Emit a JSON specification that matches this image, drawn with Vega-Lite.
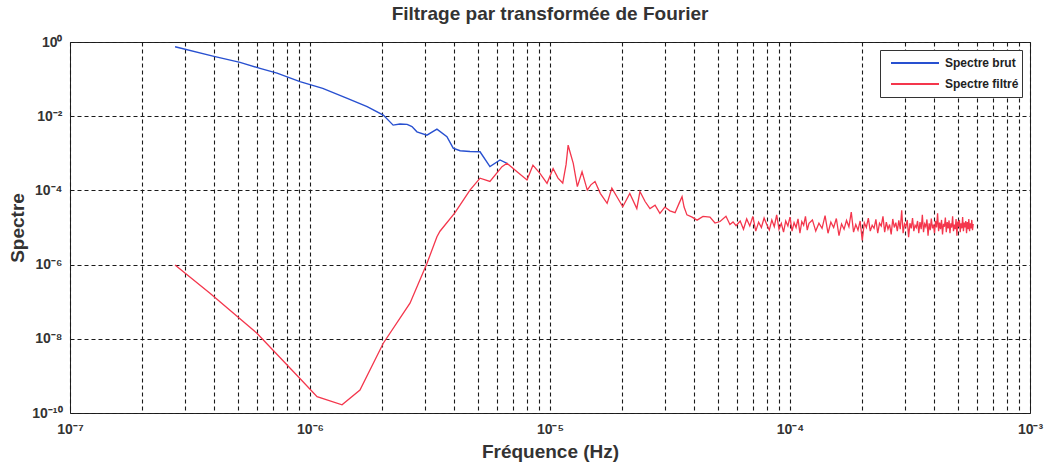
{
  "$schema": "https://vega.github.io/schema/vega-lite/v6.json",
  "width": 960,
  "height": 371,
  "autosize": {"type": "none"},
  "padding": {"left": 70, "top": 42, "right": 17, "bottom": 53},
  "background": "white",
  "title": {"text": "Filtrage par transformée de Fourier", "font": "Liberation Sans", "fontSize": 19, "fontWeight": "bold", "color": "#333", "offset": 11, "anchor": "middle"},
  "config": {"view": {"stroke": "#222", "strokeWidth": 1}},
  "datasets": {
    "brut": [
      {"freq": 2.74e-7, "spectre": 0.746, "serie": "Spectre brut"},
      {"freq": 3.94e-7, "spectre": 0.417, "serie": "Spectre brut"},
      {"freq": 5.11e-7, "spectre": 0.282, "serie": "Spectre brut"},
      {"freq": 6.19e-7, "spectre": 0.195, "serie": "Spectre brut"},
      {"freq": 7.29e-7, "spectre": 0.145, "serie": "Spectre brut"},
      {"freq": 9.08e-7, "spectre": 0.0851, "serie": "Spectre brut"},
      {"freq": 1.13e-6, "spectre": 0.0562, "serie": "Spectre brut"},
      {"freq": 1.43e-6, "spectre": 0.0302, "serie": "Spectre brut"},
      {"freq": 1.73e-6, "spectre": 0.0182, "serie": "Spectre brut"},
      {"freq": 2.02e-6, "spectre": 0.0107, "serie": "Spectre brut"},
      {"freq": 2.22e-6, "spectre": 0.00575, "serie": "Spectre brut"},
      {"freq": 2.37e-6, "spectre": 0.00617, "serie": "Spectre brut"},
      {"freq": 2.54e-6, "spectre": 0.00603, "serie": "Spectre brut"},
      {"freq": 2.66e-6, "spectre": 0.00525, "serie": "Spectre brut"},
      {"freq": 2.79e-6, "spectre": 0.0038, "serie": "Spectre brut"},
      {"freq": 3.07e-6, "spectre": 0.00309, "serie": "Spectre brut"},
      {"freq": 3.38e-6, "spectre": 0.00447, "serie": "Spectre brut"},
      {"freq": 3.72e-6, "spectre": 0.00282, "serie": "Spectre brut"},
      {"freq": 3.95e-6, "spectre": 0.00138, "serie": "Spectre brut"},
      {"freq": 4.22e-6, "spectre": 0.00117, "serie": "Spectre brut"},
      {"freq": 4.64e-6, "spectre": 0.00112, "serie": "Spectre brut"},
      {"freq": 5.11e-6, "spectre": 0.0011, "serie": "Spectre brut"},
      {"freq": 5.62e-6, "spectre": 4.37e-4, "serie": "Spectre brut"},
      {"freq": 6.19e-6, "spectre": 6.61e-4, "serie": "Spectre brut"},
      {"freq": 6.62e-6, "spectre": 5.37e-4, "serie": "Spectre brut"}
    ],
    "filtre": [
      {"freq": 2.74e-7, "spectre": 9.77e-7, "serie": "Spectre filtré"},
      {"freq": 3.83e-7, "spectre": 1.70e-7, "serie": "Spectre filtré"},
      {"freq": 6.01e-7, "spectre": 1.41e-8, "serie": "Spectre filtré"},
      {"freq": 9.08e-7, "spectre": 8.51e-10, "serie": "Spectre filtré"},
      {"freq": 1.07e-6, "spectre": 2.75e-10, "serie": "Spectre filtré"},
      {"freq": 1.36e-6, "spectre": 1.66e-10, "serie": "Spectre filtré"},
      {"freq": 1.615e-6, "spectre": 4.17e-10, "serie": "Spectre filtré"},
      {"freq": 2.02e-6, "spectre": 7.59e-9, "serie": "Spectre filtré"},
      {"freq": 2.61e-6, "spectre": 9.12e-8, "serie": "Spectre filtré"},
      {"freq": 3.07e-6, "spectre": 1.07e-6, "serie": "Spectre filtré"},
      {"freq": 3.38e-6, "spectre": 5.62e-6, "serie": "Spectre filtré"},
      {"freq": 3.48e-6, "spectre": 7.94e-6, "serie": "Spectre filtré"},
      {"freq": 4.02e-6, "spectre": 2.51e-5, "serie": "Spectre filtré"},
      {"freq": 4.64e-6, "spectre": 1.02e-4, "serie": "Spectre filtré"},
      {"freq": 5.11e-6, "spectre": 2.14e-4, "serie": "Spectre filtré"},
      {"freq": 5.62e-6, "spectre": 1.74e-4, "serie": "Spectre filtré"},
      {"freq": 6.31e-6, "spectre": 4.37e-4, "serie": "Spectre filtré"},
      {"freq": 6.62e-6, "spectre": 5.37e-4, "serie": "Spectre filtré"},
      {"freq": 7.29e-6, "spectre": 3.16e-4, "serie": "Spectre filtré"},
      {"freq": 8.02e-6, "spectre": 1.91e-4, "serie": "Spectre filtré"},
      {"freq": 8.49e-6, "spectre": 4.79e-4, "serie": "Spectre filtré"},
      {"freq": 9.08e-6, "spectre": 2.88e-4, "serie": "Spectre filtré"},
      {"freq": 9.72e-6, "spectre": 1.55e-4, "serie": "Spectre filtré"},
      {"freq": 1.03e-5, "spectre": 3.89e-4, "serie": "Spectre filtré"},
      {"freq": 1.08e-5, "spectre": 2.14e-4, "serie": "Spectre filtré"},
      {"freq": 1.13e-5, "spectre": 1.58e-4, "serie": "Spectre filtré"},
      {"freq": 1.167e-5, "spectre": 5.01e-4, "serie": "Spectre filtré"},
      {"freq": 1.19e-5, "spectre": 1.66e-3, "serie": "Spectre filtré"},
      {"freq": 1.21e-5, "spectre": 1.12e-3, "serie": "Spectre filtré"},
      {"freq": 1.25e-5, "spectre": 5.37e-4, "serie": "Spectre filtré"},
      {"freq": 1.30e-5, "spectre": 1.26e-4, "serie": "Spectre filtré"},
      {"freq": 1.36e-5, "spectre": 3.16e-4, "serie": "Spectre filtré"},
      {"freq": 1.43e-5, "spectre": 1.02e-4, "serie": "Spectre filtré"},
      {"freq": 1.48e-5, "spectre": 1.41e-4, "serie": "Spectre filtré"},
      {"freq": 1.54e-5, "spectre": 1.74e-4, "serie": "Spectre filtré"},
      {"freq": 1.62e-5, "spectre": 8.32e-5, "serie": "Spectre filtré"},
      {"freq": 1.73e-5, "spectre": 4.47e-5, "serie": "Spectre filtré"},
      {"freq": 1.81e-5, "spectre": 1.15e-4, "serie": "Spectre filtré"},
      {"freq": 1.90e-5, "spectre": 6.76e-5, "serie": "Spectre filtré"},
      {"freq": 2.01e-5, "spectre": 3.63e-5, "serie": "Spectre filtré"},
      {"freq": 2.15e-5, "spectre": 8.32e-5, "serie": "Spectre filtré"},
      {"freq": 2.30e-5, "spectre": 3.24e-5, "serie": "Spectre filtré"},
      {"freq": 2.37e-5, "spectre": 9.33e-5, "serie": "Spectre filtré"},
      {"freq": 2.49e-5, "spectre": 5.01e-5, "serie": "Spectre filtré"},
      {"freq": 2.61e-5, "spectre": 3.24e-5, "serie": "Spectre filtré"},
      {"freq": 2.74e-5, "spectre": 3.98e-5, "serie": "Spectre filtré"},
      {"freq": 2.87e-5, "spectre": 2.40e-5, "serie": "Spectre filtré"},
      {"freq": 3.01e-5, "spectre": 3.55e-5, "serie": "Spectre filtré"},
      {"freq": 3.16e-5, "spectre": 2.82e-5, "serie": "Spectre filtré"},
      {"freq": 3.32e-5, "spectre": 2.51e-5, "serie": "Spectre filtré"},
      {"freq": 3.45e-5, "spectre": 4.47e-5, "serie": "Spectre filtré"},
      {"freq": 3.55e-5, "spectre": 6.76e-5, "serie": "Spectre filtré"},
      {"freq": 3.62e-5, "spectre": 3.55e-5, "serie": "Spectre filtré"},
      {"freq": 3.72e-5, "spectre": 2.19e-5, "serie": "Spectre filtré"},
      {"freq": 3.91e-5, "spectre": 1.91e-5, "serie": "Spectre filtré"},
      {"freq": 4.10e-5, "spectre": 1.58e-5, "serie": "Spectre filtré"},
      {"freq": 4.34e-5, "spectre": 2.0e-5, "serie": "Spectre filtré"},
      {"freq": 4.64e-5, "spectre": 1.91e-5, "serie": "Spectre filtré"},
      {"freq": 4.87e-5, "spectre": 1.32e-5, "serie": "Spectre filtré"},
      {"freq": 5.11e-5, "spectre": 1.45e-5, "serie": "Spectre filtré"},
      {"freq": 5.41e-5, "spectre": 2.0e-5, "serie": "Spectre filtré"},
      {"freq": 5.62e-5, "spectre": 1.2e-5, "serie": "Spectre filtré"},
      {"freq": 5.79e-5, "spectre": 1.41e-5, "serie": "Spectre filtré"},
      {"freq": 5.96e-5, "spectre": 1.12e-5, "serie": "Spectre filtré"},
      {"freq": 6.2e-5, "spectre": 1.5e-5, "serie": "Spectre filtré"},
      {"freq": 6.4e-5, "spectre": 0.9e-5, "serie": "Spectre filtré"},
      {"freq": 6.6e-5, "spectre": 1.7e-5, "serie": "Spectre filtré"},
      {"freq": 6.8e-5, "spectre": 1.1e-5, "serie": "Spectre filtré"},
      {"freq": 7.0e-5, "spectre": 2.0e-5, "serie": "Spectre filtré"},
      {"freq": 7.2e-5, "spectre": 0.8e-5, "serie": "Spectre filtré"},
      {"freq": 7.4e-5, "spectre": 1.4e-5, "serie": "Spectre filtré"},
      {"freq": 7.6e-5, "spectre": 1.0e-5, "serie": "Spectre filtré"},
      {"freq": 7.8e-5, "spectre": 1.8e-5, "serie": "Spectre filtré"},
      {"freq": 8.0e-5, "spectre": 1.2e-5, "serie": "Spectre filtré"},
      {"freq": 8.2e-5, "spectre": 0.85e-5, "serie": "Spectre filtré"},
      {"freq": 8.4e-5, "spectre": 1.6e-5, "serie": "Spectre filtré"},
      {"freq": 8.6e-5, "spectre": 1.05e-5, "serie": "Spectre filtré"},
      {"freq": 8.8e-5, "spectre": 2.2e-5, "serie": "Spectre filtré"},
      {"freq": 9.0e-5, "spectre": 0.9e-5, "serie": "Spectre filtré"},
      {"freq": 9.2e-5, "spectre": 1.3e-5, "serie": "Spectre filtré"},
      {"freq": 9.4e-5, "spectre": 0.75e-5, "serie": "Spectre filtré"},
      {"freq": 9.6e-5, "spectre": 1.5e-5, "serie": "Spectre filtré"},
      {"freq": 9.8e-5, "spectre": 1.1e-5, "serie": "Spectre filtré"},
      {"freq": 10.0e-5, "spectre": 1.9e-5, "serie": "Spectre filtré"},
      {"freq": 10.2e-5, "spectre": 0.8e-5, "serie": "Spectre filtré"},
      {"freq": 10.4e-5, "spectre": 1.35e-5, "serie": "Spectre filtré"},
      {"freq": 10.6e-5, "spectre": 1.0e-5, "serie": "Spectre filtré"},
      {"freq": 10.8e-5, "spectre": 1.7e-5, "serie": "Spectre filtré"},
      {"freq": 11.0e-5, "spectre": 0.7e-5, "serie": "Spectre filtré"},
      {"freq": 11.2e-5, "spectre": 1.45e-5, "serie": "Spectre filtré"},
      {"freq": 11.4e-5, "spectre": 1.15e-5, "serie": "Spectre filtré"},
      {"freq": 11.6e-5, "spectre": 2.0e-5, "serie": "Spectre filtré"},
      {"freq": 11.8e-5, "spectre": 0.85e-5, "serie": "Spectre filtré"},
      {"freq": 12.0e-5, "spectre": 1.3e-5, "serie": "Spectre filtré"},
      {"freq": 12.4e-5, "spectre": 1.6e-5, "serie": "Spectre filtré"},
      {"freq": 12.8e-5, "spectre": 0.8e-5, "serie": "Spectre filtré"},
      {"freq": 13.2e-5, "spectre": 1.3e-5, "serie": "Spectre filtré"},
      {"freq": 13.6e-5, "spectre": 0.95e-5, "serie": "Spectre filtré"},
      {"freq": 14.0e-5, "spectre": 2.1e-5, "serie": "Spectre filtré"},
      {"freq": 14.4e-5, "spectre": 0.7e-5, "serie": "Spectre filtré"},
      {"freq": 14.8e-5, "spectre": 1.4e-5, "serie": "Spectre filtré"},
      {"freq": 15.2e-5, "spectre": 1.0e-5, "serie": "Spectre filtré"},
      {"freq": 15.6e-5, "spectre": 1.75e-5, "serie": "Spectre filtré"},
      {"freq": 16.0e-5, "spectre": 0.6e-5, "serie": "Spectre filtré"},
      {"freq": 16.4e-5, "spectre": 1.25e-5, "serie": "Spectre filtré"},
      {"freq": 16.8e-5, "spectre": 0.9e-5, "serie": "Spectre filtré"},
      {"freq": 17.2e-5, "spectre": 1.55e-5, "serie": "Spectre filtré"},
      {"freq": 17.6e-5, "spectre": 1.05e-5, "serie": "Spectre filtré"},
      {"freq": 18.0e-5, "spectre": 2.6e-5, "serie": "Spectre filtré"},
      {"freq": 18.4e-5, "spectre": 0.75e-5, "serie": "Spectre filtré"},
      {"freq": 18.8e-5, "spectre": 1.2e-5, "serie": "Spectre filtré"},
      {"freq": 19.2e-5, "spectre": 0.85e-5, "serie": "Spectre filtré"},
      {"freq": 19.6e-5, "spectre": 1.5e-5, "serie": "Spectre filtré"},
      {"freq": 20.0e-5, "spectre": 0.45e-5, "serie": "Spectre filtré"},
      {"freq": 20.4e-5, "spectre": 1.35e-5, "serie": "Spectre filtré"},
      {"freq": 20.8e-5, "spectre": 1.0e-5, "serie": "Spectre filtré"},
      {"freq": 21.2e-5, "spectre": 1.8e-5, "serie": "Spectre filtré"},
      {"freq": 21.6e-5, "spectre": 0.8e-5, "serie": "Spectre filtré"},
      {"freq": 22.0e-5, "spectre": 1.15e-5, "serie": "Spectre filtré"},
      {"freq": 22.4e-5, "spectre": 0.95e-5, "serie": "Spectre filtré"},
      {"freq": 22.8e-5, "spectre": 1.65e-5, "serie": "Spectre filtré"},
      {"freq": 23.2e-5, "spectre": 0.7e-5, "serie": "Spectre filtré"},
      {"freq": 23.6e-5, "spectre": 1.3e-5, "serie": "Spectre filtré"},
      {"freq": 24.0e-5, "spectre": 1.1e-5, "serie": "Spectre filtré"},
      {"freq": 24.4e-5, "spectre": 2.0e-5, "serie": "Spectre filtré"},
      {"freq": 24.8e-5, "spectre": 0.75e-5, "serie": "Spectre filtré"},
      {"freq": 25.2e-5, "spectre": 1.4e-5, "serie": "Spectre filtré"},
      {"freq": 25.6e-5, "spectre": 0.9e-5, "serie": "Spectre filtré"},
      {"freq": 26.0e-5, "spectre": 1.2e-5, "serie": "Spectre filtré"},
      {"freq": 26.4e-5, "spectre": 0.65e-5, "serie": "Spectre filtré"},
      {"freq": 26.8e-5, "spectre": 1.7e-5, "serie": "Spectre filtré"},
      {"freq": 27.2e-5, "spectre": 1.0e-5, "serie": "Spectre filtré"},
      {"freq": 27.6e-5, "spectre": 1.35e-5, "serie": "Spectre filtré"},
      {"freq": 28.0e-5, "spectre": 0.8e-5, "serie": "Spectre filtré"},
      {"freq": 28.4e-5, "spectre": 1.55e-5, "serie": "Spectre filtré"},
      {"freq": 28.8e-5, "spectre": 0.9e-5, "serie": "Spectre filtré"},
      {"freq": 29.2e-5, "spectre": 2.9e-5, "serie": "Spectre filtré"},
      {"freq": 29.6e-5, "spectre": 0.7e-5, "serie": "Spectre filtré"},
      {"freq": 30.0e-5, "spectre": 1.25e-5, "serie": "Spectre filtré"},
      {"freq": 30.4e-5, "spectre": 1.05e-5, "serie": "Spectre filtré"},
      {"freq": 30.8e-5, "spectre": 1.6e-5, "serie": "Spectre filtré"},
      {"freq": 31.2e-5, "spectre": 0.55e-5, "serie": "Spectre filtré"},
      {"freq": 31.6e-5, "spectre": 1.3e-5, "serie": "Spectre filtré"},
      {"freq": 32.0e-5, "spectre": 0.95e-5, "serie": "Spectre filtré"},
      {"freq": 32.4e-5, "spectre": 1.8e-5, "serie": "Spectre filtré"},
      {"freq": 32.8e-5, "spectre": 0.8e-5, "serie": "Spectre filtré"},
      {"freq": 33.2e-5, "spectre": 1.15e-5, "serie": "Spectre filtré"},
      {"freq": 33.6e-5, "spectre": 1.0e-5, "serie": "Spectre filtré"},
      {"freq": 34.0e-5, "spectre": 1.5e-5, "serie": "Spectre filtré"},
      {"freq": 34.4e-5, "spectre": 0.7e-5, "serie": "Spectre filtré"},
      {"freq": 34.8e-5, "spectre": 1.4e-5, "serie": "Spectre filtré"},
      {"freq": 35.2e-5, "spectre": 0.9e-5, "serie": "Spectre filtré"},
      {"freq": 35.6e-5, "spectre": 2.2e-5, "serie": "Spectre filtré"},
      {"freq": 36.0e-5, "spectre": 0.75e-5, "serie": "Spectre filtré"},
      {"freq": 36.4e-5, "spectre": 1.25e-5, "serie": "Spectre filtré"},
      {"freq": 36.8e-5, "spectre": 1.05e-5, "serie": "Spectre filtré"},
      {"freq": 37.2e-5, "spectre": 1.65e-5, "serie": "Spectre filtré"},
      {"freq": 37.6e-5, "spectre": 0.6e-5, "serie": "Spectre filtré"},
      {"freq": 38.0e-5, "spectre": 1.3e-5, "serie": "Spectre filtré"},
      {"freq": 38.4e-5, "spectre": 0.85e-5, "serie": "Spectre filtré"},
      {"freq": 38.8e-5, "spectre": 1.75e-5, "serie": "Spectre filtré"},
      {"freq": 39.2e-5, "spectre": 0.95e-5, "serie": "Spectre filtré"},
      {"freq": 39.6e-5, "spectre": 1.2e-5, "serie": "Spectre filtré"},
      {"freq": 40.0e-5, "spectre": 0.7e-5, "serie": "Spectre filtré"},
      {"freq": 40.4e-5, "spectre": 1.5e-5, "serie": "Spectre filtré"},
      {"freq": 40.8e-5, "spectre": 1.0e-5, "serie": "Spectre filtré"},
      {"freq": 41.2e-5, "spectre": 2.4e-5, "serie": "Spectre filtré"},
      {"freq": 41.6e-5, "spectre": 0.8e-5, "serie": "Spectre filtré"},
      {"freq": 42.0e-5, "spectre": 1.35e-5, "serie": "Spectre filtré"},
      {"freq": 42.4e-5, "spectre": 0.9e-5, "serie": "Spectre filtré"},
      {"freq": 42.8e-5, "spectre": 1.6e-5, "serie": "Spectre filtré"},
      {"freq": 43.2e-5, "spectre": 0.65e-5, "serie": "Spectre filtré"},
      {"freq": 43.6e-5, "spectre": 1.25e-5, "serie": "Spectre filtré"},
      {"freq": 44.0e-5, "spectre": 1.05e-5, "serie": "Spectre filtré"},
      {"freq": 44.4e-5, "spectre": 1.85e-5, "serie": "Spectre filtré"},
      {"freq": 44.8e-5, "spectre": 0.75e-5, "serie": "Spectre filtré"},
      {"freq": 45.2e-5, "spectre": 1.4e-5, "serie": "Spectre filtré"},
      {"freq": 45.6e-5, "spectre": 0.95e-5, "serie": "Spectre filtré"},
      {"freq": 46.0e-5, "spectre": 1.55e-5, "serie": "Spectre filtré"},
      {"freq": 46.4e-5, "spectre": 0.7e-5, "serie": "Spectre filtré"},
      {"freq": 46.8e-5, "spectre": 1.3e-5, "serie": "Spectre filtré"},
      {"freq": 47.2e-5, "spectre": 1.0e-5, "serie": "Spectre filtré"},
      {"freq": 47.6e-5, "spectre": 2.0e-5, "serie": "Spectre filtré"},
      {"freq": 48.0e-5, "spectre": 0.8e-5, "serie": "Spectre filtré"},
      {"freq": 48.4e-5, "spectre": 1.2e-5, "serie": "Spectre filtré"},
      {"freq": 48.8e-5, "spectre": 0.9e-5, "serie": "Spectre filtré"},
      {"freq": 49.2e-5, "spectre": 1.7e-5, "serie": "Spectre filtré"},
      {"freq": 49.6e-5, "spectre": 0.6e-5, "serie": "Spectre filtré"},
      {"freq": 50.0e-5, "spectre": 1.45e-5, "serie": "Spectre filtré"},
      {"freq": 50.4e-5, "spectre": 1.05e-5, "serie": "Spectre filtré"},
      {"freq": 50.8e-5, "spectre": 1.6e-5, "serie": "Spectre filtré"},
      {"freq": 51.2e-5, "spectre": 0.75e-5, "serie": "Spectre filtré"},
      {"freq": 51.6e-5, "spectre": 1.3e-5, "serie": "Spectre filtré"},
      {"freq": 52.0e-5, "spectre": 0.95e-5, "serie": "Spectre filtré"},
      {"freq": 52.4e-5, "spectre": 1.9e-5, "serie": "Spectre filtré"},
      {"freq": 52.8e-5, "spectre": 0.8e-5, "serie": "Spectre filtré"},
      {"freq": 53.2e-5, "spectre": 1.35e-5, "serie": "Spectre filtré"},
      {"freq": 53.6e-5, "spectre": 1.0e-5, "serie": "Spectre filtré"},
      {"freq": 54.0e-5, "spectre": 1.5e-5, "serie": "Spectre filtré"},
      {"freq": 54.4e-5, "spectre": 0.7e-5, "serie": "Spectre filtré"},
      {"freq": 54.8e-5, "spectre": 1.4e-5, "serie": "Spectre filtré"},
      {"freq": 55.2e-5, "spectre": 0.9e-5, "serie": "Spectre filtré"},
      {"freq": 55.6e-5, "spectre": 1.7e-5, "serie": "Spectre filtré"},
      {"freq": 56.0e-5, "spectre": 0.8e-5, "serie": "Spectre filtré"},
      {"freq": 56.4e-5, "spectre": 1.3e-5, "serie": "Spectre filtré"},
      {"freq": 56.8e-5, "spectre": 0.95e-5, "serie": "Spectre filtré"},
      {"freq": 57.2e-5, "spectre": 1.6e-5, "serie": "Spectre filtré"},
      {"freq": 57.6e-5, "spectre": 0.85e-5, "serie": "Spectre filtré"},
      {"freq": 58.0e-5, "spectre": 1.25e-5, "serie": "Spectre filtré"}
    ]
  },
  "encoding": {
    "x": {
      "field": "freq", "type": "quantitative",
      "scale": {"type": "log", "domain": [1e-7, 1e-3], "nice": false},
      "title": "Fréquence (Hz)",
      "axis": {
        "values": [1e-7, 2e-7, 3e-7, 4e-7, 5e-7, 6e-7, 7e-7, 8e-7, 9e-7, 1e-6, 2e-6, 3e-6, 4e-6, 5e-6, 6e-6, 7e-6, 8e-6, 9e-6, 1e-5, 2e-5, 3e-5, 4e-5, 5e-5, 6e-5, 7e-5, 8e-5, 9e-5, 1e-4, 2e-4, 3e-4, 4e-4, 5e-4, 6e-4, 7e-4, 8e-4, 9e-4, 1e-3],
        "labelExpr": "abs(log(datum.value)/LN10 - round(log(datum.value)/LN10)) > 0.01 ? '' : ['10⁻⁷','10⁻⁶','10⁻⁵','10⁻⁴','10⁻³'][round(log(datum.value)/LN10)+7]",
        "labelFlush": false, "labelOverlap": false,
        "grid": true, "gridDash": [4, 3], "gridColor": "#1a1a1a", "gridWidth": 1.1, "gridOpacity": 1,
        "domain": false, "ticks": false, "labelPadding": 9,
        "labelFont": "Liberation Sans", "labelFontSize": 14, "labelFontWeight": "bold", "labelColor": "#333",
        "titleFont": "Liberation Sans", "titleFontSize": 19, "titleFontWeight": "bold", "titleColor": "#333", "titlePadding": 6
      }
    },
    "y": {
      "field": "spectre", "type": "quantitative",
      "scale": {"type": "log", "domain": [1e-10, 1], "nice": false},
      "title": "Spectre",
      "axis": {
        "values": [1e-10, 1e-8, 1e-6, 1e-4, 1e-2, 1],
        "labelExpr": "['10⁻¹⁰','','10⁻⁸','','10⁻⁶','','10⁻⁴','','10⁻²','','10⁰'][round(log(datum.value)/LN10)+10]",
        "labelFlush": false, "labelOverlap": false,
        "grid": true, "gridDash": [4, 3], "gridColor": "#1a1a1a", "gridWidth": 1.1, "gridOpacity": 1,
        "domain": false, "ticks": false, "labelPadding": 8,
        "labelFont": "Liberation Sans", "labelFontSize": 14, "labelFontWeight": "bold", "labelColor": "#333",
        "titleFont": "Liberation Sans", "titleFontSize": 19, "titleFontWeight": "bold", "titleColor": "#333", "titlePadding": 4
      }
    },
    "color": {
      "field": "serie", "type": "nominal",
      "scale": {"domain": ["Spectre brut", "Spectre filtré"], "range": ["#2850d0", "#f4364c"]},
      "legend": {
        "title": null, "orient": "none", "legendX": 810, "legendY": 8,
        "symbolType": "stroke", "symbolSize": 2304, "symbolStrokeWidth": 2,
        "clipHeight": 20, "rowPadding": 1, "padding": 3, "symbolOffset": 7, "labelOffset": 5,
        "labelFont": "Liberation Sans", "labelFontSize": 12, "labelFontWeight": "bold", "labelColor": "#222", "labelLimit": 200,
        "strokeColor": "#333", "fillColor": "white"
      }
    }
  },
  "layer": [
    {"data": {"name": "brut"}, "mark": {"type": "line", "strokeWidth": 1.4}},
    {"data": {"name": "filtre"}, "mark": {"type": "line", "strokeWidth": 1.3}}
  ]
}
